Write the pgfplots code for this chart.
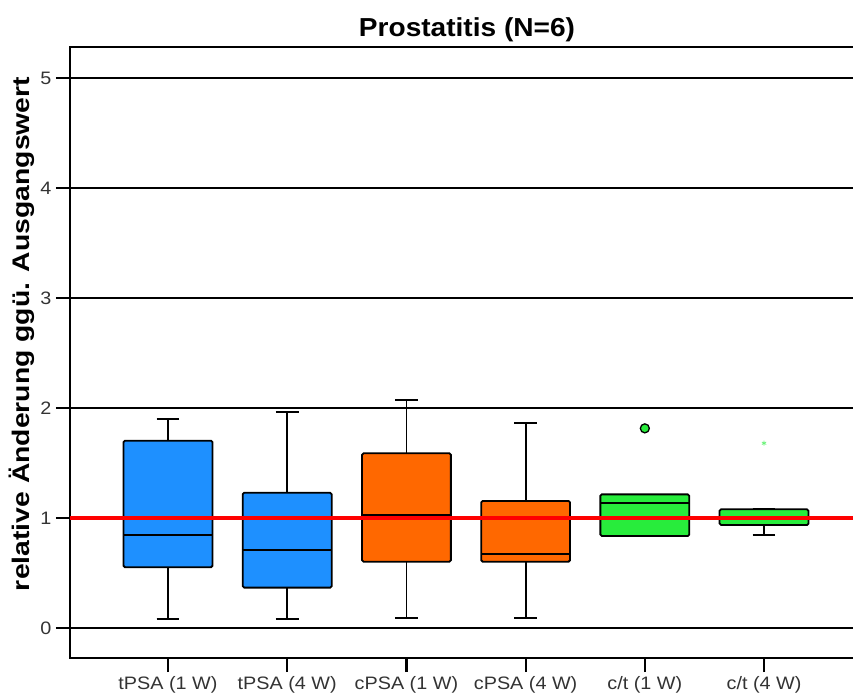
\documentclass[border=0pt]{standalone}
\usepackage{fontspec}
\setmainfont{Liberation Sans}[FakeStretch=1.1]
\newfontfamily\titlefont{Liberation Sans}[FakeStretch=1.08]
\newfontfamily\ylabfont{Liberation Sans}[FakeStretch=1.18]
\usepackage{pgfplots}
\pgfplotsset{compat=1.18}
\usepgfplotslibrary{statistics}
\definecolor{bblue}{RGB}{30,144,255}
\definecolor{borange}{RGB}{255,104,0}
\definecolor{bgreen}{RGB}{40,236,60}
\begin{document}
\begin{tikzpicture}
\path[use as bounding box] (0,0) rectangle (853bp,700bp);
\begin{axis}[
  at={(70bp,42bp)}, anchor=south west,
  scale only axis, width=790bp, height=611bp,
  xmin=0.178, xmax=6.805, ymin=-0.2727, ymax=5.282,
  xtick={1,2,3,4,5,6},
  xticklabels={tPSA (1 W),tPSA (4 W),cPSA (1 W),cPSA (4 W),c/t (1 W),c/t (4 W)},
  ytick={0,1,2,3,4,5},
  tick pos=left, tick align=outside,
  major tick length=14bp,
  tick style={black, line width=2.2bp},
  ymajorgrids, grid style={black, line width=1.5bp},
  axis line style={black, line width=2.8bp},
  /pgf/number format/assume math mode=true,
  ticklabel style={font=\fontsize{18bp}{20bp}\selectfont, text=black!80},
  xticklabel style={yshift=-1bp},
  yticklabel style={xshift=-1bp},
  boxplot/draw direction=y,
  boxplot/box extend=0.746,
  boxplot/whisker extend=0.19,
  boxplot/every box/.style={line width=1.8bp, draw=black, rounded corners=1.5bp},
  boxplot/every median/.style={line width=2.2bp, draw=black},
  boxplot/every whisker/.style={line width=1.8bp, draw=black},
  clip=true,
]
\addplot[boxplot prepared={lower whisker=0.085, lower quartile=0.552, median=0.845, upper quartile=1.703, upper whisker=1.897, draw position=1},
  fill=bblue, draw=black] coordinates {};
\addplot[boxplot prepared={lower whisker=0.085, lower quartile=0.367, median=0.709, upper quartile=1.23, upper whisker=1.967, draw position=2},
  fill=bblue, draw=black] coordinates {};
\addplot[boxplot prepared={lower whisker=0.094, lower quartile=0.603, median=1.027, upper quartile=1.588, upper whisker=2.073, draw position=3},
  fill=borange, draw=black] coordinates {};
\addplot[boxplot prepared={lower whisker=0.094, lower quartile=0.603, median=0.67, upper quartile=1.155, upper whisker=1.867, draw position=4},
  fill=borange, draw=black] coordinates {};
\addplot[boxplot prepared={lower whisker=0.836, lower quartile=0.836, median=1.139, upper quartile=1.215, upper whisker=1.215, draw position=5, whisker extend=0},
  fill=bgreen, draw=black, mark=*, mark size=4.5bp, mark options={fill=bgreen, draw=black, line width=1.3bp}]
  table[row sep=\\, y index=0] {1.815\\};
\addplot[boxplot prepared={lower whisker=0.843, lower quartile=0.936, median=1.01, upper quartile=1.079, upper whisker=1.079, draw position=6},
  fill=bgreen, draw=black, mark=asterisk, mark size=2.5bp, mark options={draw=bgreen!70, line width=0.7bp}]
  table[row sep=\\, y index=0] {1.68\\};
\addplot[red, line width=3.2bp] coordinates {(0.178,1) (6.805,1)};
\end{axis}
\node[anchor=base] at (467bp,663bp) {\titlefont\bfseries\fontsize{26bp}{30bp}\selectfont Prostatitis (N=6)};
\node[anchor=base, rotate=90] at (29bp,366bp) {\ylabfont\bfseries\fontsize{24bp}{28bp}\selectfont relative Änderung ggü. Ausgangswert};
\end{tikzpicture}
\end{document}
